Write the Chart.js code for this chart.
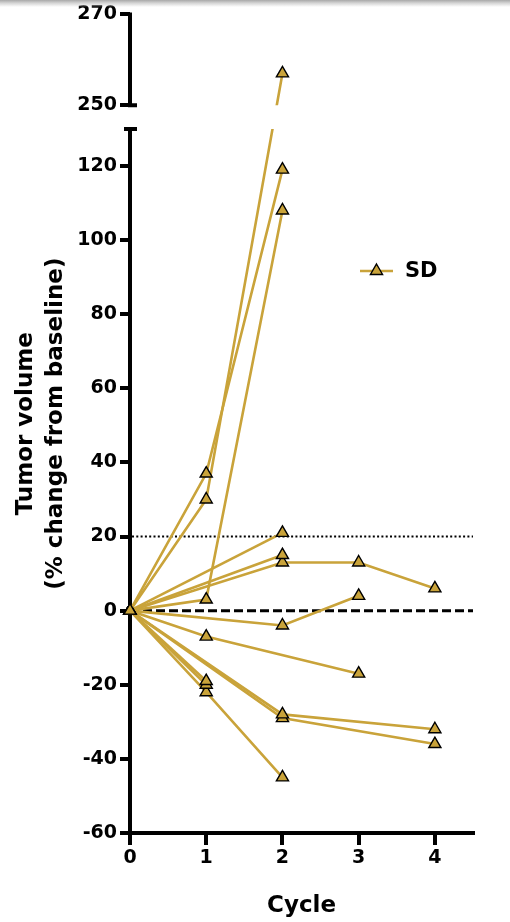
<!DOCTYPE html>
<html><head><meta charset="utf-8">
<script src="https://cdn.jsdelivr.net/npm/chart.js@4"></script>
<style>
html,body{margin:0;padding:0;background:#fff;}
#wrap{position:relative;width:510px;height:922px;overflow:hidden;}
#shade{position:absolute;left:0;top:0;width:510px;height:7px;background:linear-gradient(#a8a8a8,#d6d6d6 45%,rgba(255,255,255,0));pointer-events:none;}
</style></head><body>
<div id="wrap"><canvas id="c" width="510" height="922"></canvas><div id="shade"></div></div>
<script>
// ---- data ----
const cycles = [0, 1, 2, 3, 4];
// tumour volume, % change from baseline, at cycles 0..4 (null = no assessment)
const patient01 = [0, 37, 119, null, null];
const patient02 = [0, 30, 257, null, null];
const patient03 = [0, 3, 108, null, null];
const patient04 = [0, -7, null, -17, null];
const patient05 = [0, -19, null, null, null];
const patient06 = [0, -20, null, null, null];
const patient07 = [0, -22, -45, null, null];
const patient08 = [0, null, 21, null, null];
const patient09 = [0, null, 15, null, null];
const patient10 = [0, null, 13, 13, 6];
const patient11 = [0, null, -4, 4, null];
const patient12 = [0, null, -28, null, -32];
const patient13 = [0, null, -29, null, -36];
const seriesLabel = 'SD';
const xTicks = [0, 1, 2, 3, 4];
const yTicksLower = [-60, -40, -20, 0, 20, 40, 60, 80, 100, 120];
const yTicksUpper = [250, 270];
const dottedLevel = 20;
const dashedLevel = 0;
const xTitle = 'Cycle';
const yTitle = ['Tumor volume', '(% change from baseline)'];

// ---- broken y axis (segment -60..130, then 250..270) ----
const BREAK_LOW = 130, BREAK_HIGH = 250, AXIS_TOP = 270;
const GAP = 6.4, UPPER_STRETCH = 1.225;
function toAxis(v) { return v <= BREAK_LOW ? v : BREAK_LOW + GAP + (v - BREAK_HIGH) * UPPER_STRETCH; }
function fromAxis(d) { return d <= BREAK_LOW + 1e-6 ? d : BREAK_HIGH + (d - BREAK_LOW - GAP) / UPPER_STRETCH; }

const GOLD = '#C9A33A';
const patients = [patient01, patient02, patient03, patient04, patient05, patient06, patient07,
                  patient08, patient09, patient10, patient11, patient12, patient13];

const datasets = patients.map(p => ({
  label: seriesLabel,
  data: cycles.map((c, i) => p[i] === null ? null : {x: c, y: toAxis(p[i])}).filter(Boolean),
  borderColor: GOLD,
  backgroundColor: GOLD,
  borderWidth: 2.6,
  pointStyle: 'triangle',
  pointRadius: 7,
  pointBorderWidth: 1.4,
  pointBorderColor: '#000',
  pointBackgroundColor: GOLD,
  tension: 0,
  clip: false
}));

const FONT = 'DejaVu Sans';

const brokenAxis = {
  id: 'brokenAxis',
  beforeDatasetsDraw(chart) {
    const {ctx, chartArea: a, scales: {x, y}} = chart;
    const px = v => y.getPixelForValue(toAxis(v));
    ctx.save();
    // reference lines
    ctx.strokeStyle = '#000';
    ctx.lineCap = 'butt';
    ctx.lineWidth = 2;
    ctx.setLineDash([2, 2.3]);
    ctx.beginPath(); ctx.moveTo(a.left + 2, px(dottedLevel)); ctx.lineTo(a.right, px(dottedLevel)); ctx.stroke();
    ctx.lineWidth = 3;
    ctx.setLineDash([9, 4]);
    ctx.beginPath(); ctx.moveTo(x.getPixelForValue(0), px(dashedLevel)); ctx.lineTo(a.right, px(dashedLevel)); ctx.stroke();
    ctx.setLineDash([]);
    // broken y axis
    ctx.lineWidth = 4;
    const L = a.left;
    ctx.beginPath();
    ctx.moveTo(L, a.bottom + 2); ctx.lineTo(L, px(BREAK_LOW));
    ctx.moveTo(L - 6, px(BREAK_LOW)); ctx.lineTo(L + 7, px(BREAK_LOW));
    ctx.moveTo(L, px(BREAK_HIGH)); ctx.lineTo(L, px(AXIS_TOP) - 2);
    ctx.moveTo(L - 2, px(BREAK_HIGH)); ctx.lineTo(L + 7, px(BREAK_HIGH));
    ctx.stroke();
    ctx.restore();
    // hide data lines inside the axis break
    const gTop = px(BREAK_HIGH), gBot = px(BREAK_LOW);
    ctx.save();
    ctx.beginPath();
    ctx.rect(0, 0, chart.width, gTop);
    ctx.rect(0, gBot, chart.width, chart.height - gBot);
    ctx.rect(0, gTop, L + 8, gBot - gTop);
    ctx.clip();
  },
  afterDatasetsDraw(chart) {
    chart.ctx.restore();
  },
  afterDraw(chart) {
    const ctx = chart.ctx;
    const lx = 360, ly = 271;
    ctx.save();
    ctx.strokeStyle = GOLD; ctx.lineWidth = 2.6;
    ctx.beginPath(); ctx.moveTo(lx, ly); ctx.lineTo(lx + 33, ly); ctx.stroke();
    ctx.fillStyle = GOLD; ctx.strokeStyle = '#000'; ctx.lineWidth = 1.4;
    Chart.helpers.drawPoint(ctx, {pointStyle: 'triangle', radius: 7, borderWidth: 1.4, rotation: 0}, lx + 16.5, ly);
    ctx.fillStyle = '#000';
    ctx.font = 'bold 21px "' + FONT + '"';
    ctx.textBaseline = 'middle';
    ctx.textAlign = 'left';
    ctx.fillText(seriesLabel, 405, ly + 1);
    ctx.restore();
  }
};

new Chart(document.getElementById('c'), {
  type: 'line',
  data: {datasets},
  options: {
    responsive: false,
    animation: false,
    devicePixelRatio: 1,
    layout: {padding: {top: 12, right: 37, bottom: 0, left: 0}},
    plugins: {legend: {display: false}, tooltip: {enabled: false}},
    scales: {
      x: {
        type: 'linear', min: 0, max: 4.5,
        afterBuildTicks(s) { s.ticks = xTicks.map(v => ({value: v})); },
        afterFit(s) { s.height = 89; },
        border: {display: true, color: '#000', width: 4},
        grid: {display: true, drawOnChartArea: false, drawTicks: true, tickLength: 12, color: '#000', lineWidth: 4},
        ticks: {autoSkip: false, padding: 2, color: '#000', font: {family: FONT, weight: 'bold', size: 19}, maxRotation: 0},
        title: {display: true, text: xTitle, color: '#000', font: {family: FONT, weight: 'bold', size: 23}, padding: {top: 0, bottom: 2}}
      },
      y: {
        type: 'linear', min: -60, max: toAxis(AXIS_TOP),
        afterBuildTicks(s) { s.ticks = yTicksLower.concat(yTicksUpper).map(v => ({value: toAxis(v)})); },
        afterFit(s) { s.width = 130; },
        border: {display: false},
        grid: {display: true, drawOnChartArea: false, drawTicks: true, tickLength: 10, color: '#000', lineWidth: 4},
        ticks: {autoSkip: false, padding: 3, color: '#000', font: {family: FONT, weight: 'bold', size: 19},
                callback: v => String(Math.round(fromAxis(v)))},
        title: {display: true, text: yTitle, color: '#000', font: {family: FONT, weight: 'bold', size: 23, lineHeight: '30px'}, padding: {top: 11, bottom: 0}}
      }
    }
  },
  plugins: [brokenAxis]
});
</script>
</body></html>
